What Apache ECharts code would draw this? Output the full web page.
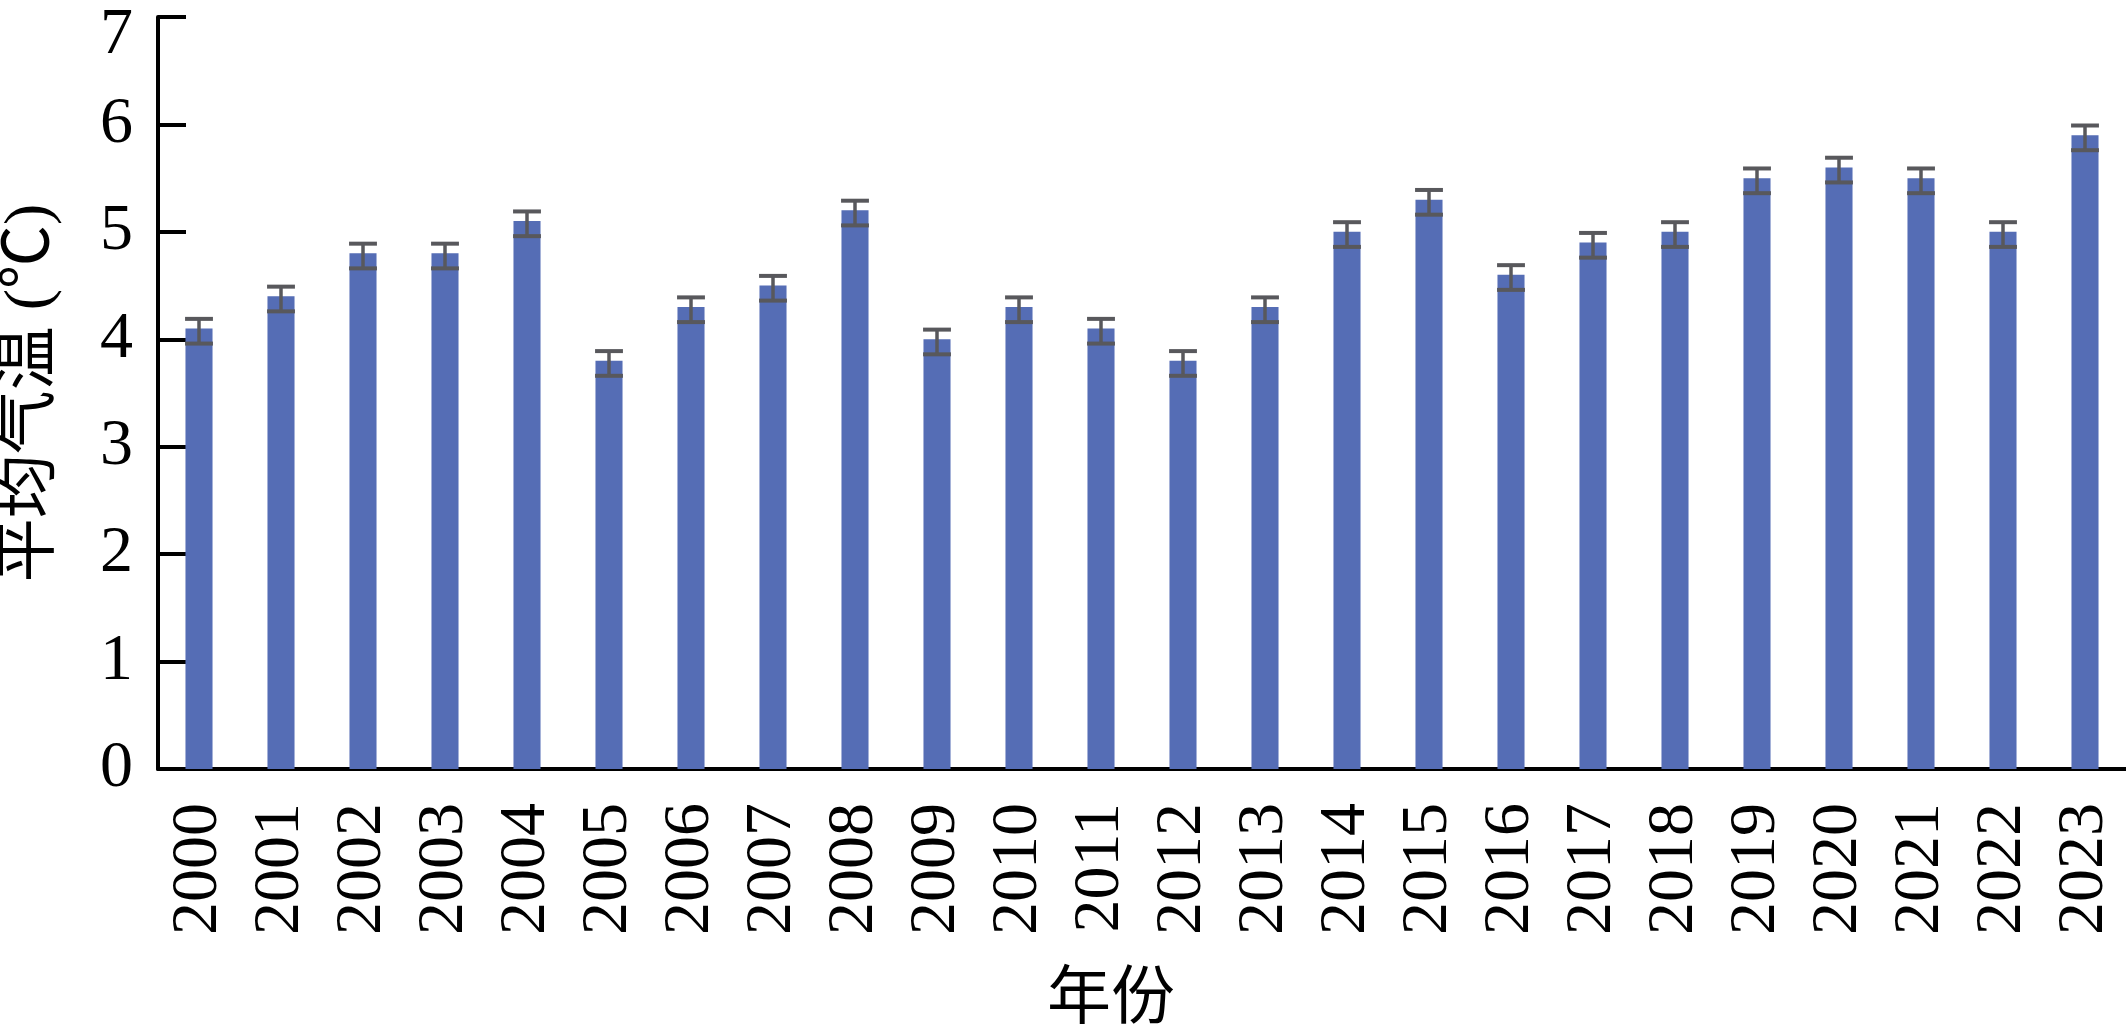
<!DOCTYPE html>
<html>
<head>
<meta charset="UTF-8">
<script src="https://cdn.jsdelivr.net/npm/echarts@6/dist/echarts.min.js"></script>
<style>
html, body { margin:0; padding:0; background:#fff; }
#chart { width:2126px; height:1036px; }
</style>
</head>
<body><div id="chart"></div>
<script>
// 年份 / 平均气温 / 误差线上下端
var years = ['2000','2001','2002','2003','2004','2005','2006','2007','2008','2009','2010','2011',
             '2012','2013','2014','2015','2016','2017','2018','2019','2020','2021','2022','2023'];
var temps = [4.1, 4.4, 4.8, 4.8, 5.1, 3.8, 4.3, 4.5, 5.2, 4.0, 4.3, 4.1,
             3.8, 4.3, 5.0, 5.3, 4.6, 4.9, 5.0, 5.5, 5.6, 5.5, 5.0, 5.9];
var errHigh = [4.19, 4.49, 4.89, 4.89, 5.19, 3.89, 4.39, 4.59, 5.29, 4.09, 4.39, 4.19,
               3.89, 4.39, 5.09, 5.39, 4.69, 4.99, 5.09, 5.59, 5.69, 5.59, 5.09, 5.99];
var errLow = [3.96, 4.26, 4.66, 4.66, 4.96, 3.66, 4.16, 4.36, 5.06, 3.86, 4.16, 3.96,
              3.66, 4.16, 4.86, 5.16, 4.46, 4.76, 4.86, 5.36, 5.46, 5.36, 4.86, 5.76];
var yTicks = [0, 7, 1]; // min, max, interval

var serif = "'Liberation Serif', 'Noto Sans CJK SC', serif";
var errData = years.map(function (y, i) { return [i, errLow[i], errHigh[i]]; });

var c = echarts.init(document.getElementById('chart'));
c.setOption({
  animation: false,
  grid: { left: 158, right: 0, top: 17, bottom: 267, containLabel: false, outerBoundsMode: 'none' },
  xAxis: {
    type: 'category',
    data: years,
    name: '年份',
    nameLocation: 'middle',
    nameGap: 200,
    nameTextStyle: { fontFamily: serif, fontSize: 64, color: '#000', padding: [0, 62, 0, 0] },
    axisLine: { lineStyle: { color: '#000', width: 4 } },
    axisTick: { show: false },
    axisLabel: { rotate: 90, margin: 34, fontFamily: serif, fontSize: 66, color: '#000', interval: 0 }
  },
  yAxis: {
    type: 'value',
    min: yTicks[0], max: yTicks[1], interval: yTicks[2],
    name: '平均气温 (℃)',
    nameLocation: 'middle',
    nameGap: 95,
    nameTextStyle: { fontFamily: serif, fontSize: 64, color: '#000' },
    splitLine: { show: false },
    axisLine: { show: true, lineStyle: { color: '#000', width: 4 } },
    axisTick: { show: true, inside: true, length: 28, lineStyle: { color: '#000', width: 4 } },
    axisLabel: {
      margin: 25, fontFamily: serif, fontSize: 66, color: '#000',
      formatter: function (v) { return v === yTicks[1] ? '{top|' + v + '}' : String(v); },
      rich: { top: { fontFamily: serif, fontSize: 66, color: '#000', padding: [37, 0, 0, 0] } }
    }
  },
  series: [
    {
      type: 'bar',
      data: temps,
      barWidth: '33%',
      itemStyle: { color: '#556db5' }
    },
    {
      type: 'custom',
      data: errData,
      z: 5,
      renderItem: function (params, api) {
        var x = api.value(0);
        var lo = api.coord([x, api.value(1)]);
        var hi = api.coord([x, api.value(2)]);
        var hw = api.size([1, 0])[0] * 0.17;
        var stem = { stroke: '#58585c', lineWidth: 3.5 };
        var cap = { stroke: '#58585c', lineWidth: 4 };
        return {
          type: 'group',
          children: [
            { type: 'line', shape: { x1: hi[0], y1: hi[1], x2: lo[0], y2: lo[1] }, style: stem },
            { type: 'line', shape: { x1: hi[0] - hw, y1: hi[1], x2: hi[0] + hw, y2: hi[1] }, style: cap },
            { type: 'line', shape: { x1: lo[0] - hw, y1: lo[1], x2: lo[0] + hw, y2: lo[1] }, style: cap }
          ]
        };
      }
    }
  ]
});
</script>
</body></html>
